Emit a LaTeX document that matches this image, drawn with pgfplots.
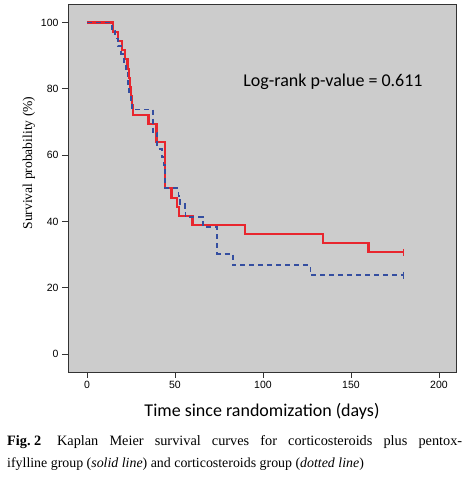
\documentclass[border=0pt]{standalone}
\usepackage{pgfplots}
\pgfplotsset{compat=1.18}
\usepackage{fontspec}
\setmainfont{Liberation Serif}
\newfontfamily\arialf{Liberation Sans}
\newfontfamily\calibrif{Carlito}
\definecolor{kmred}{RGB}{232,38,46}
\definecolor{kmblue}{RGB}{52,78,160}
\definecolor{kmbg}{RGB}{204,204,204}
\begin{document}
\begin{tikzpicture}
\begin{axis}[
  at={(0pt,0pt)}, anchor=south west,
  width=388pt, height=368pt, scale only axis,
  xmin=-10.8, xmax=209.7, ymin=-5.4, ymax=105.6,
  axis background/.style={fill=kmbg},
  axis line style={draw=black!80, line width=0.8pt},
  xtick={0,50,100,150,200}, ytick={0,20,40,60,80,100},
  tick align=outside, tick pos=left,
  major tick length=6pt,
  tick style={black!80, line width=0.8pt},
  ticklabel style={font=\arialf\fontsize{10.5}{12}\selectfont},
  /pgf/number format/assume math mode=true,
  clip=true,
]
\addplot[const plot, kmred, line width=2.2pt] coordinates {
(0,100) (15,97.2) (17.6,94.4) (20,91.7) (21.6,88.9) (23,86.1) (24,83.3)
(24.5,80.6) (25,77.8) (25.5,75) (26,72.2) (35,69.4) (39.5,63.9) (44.5,50)
(48,47.2) (51,44.4) (52.5,41.7) (60,38.9) (90,36.3) (134,33.5) (160,30.7) (180,30.7)
};
\addplot[const plot, kmblue, line width=1.8pt, dash pattern=on 5pt off 4pt] coordinates {
(0,100) (14,97.6) (16,95.2) (17.5,92.9) (19.5,90.5) (21,88.1) (22,85.7)
(23,83.3) (23.5,80.9) (24,78.6) (25,76.2) (25.5,73.8) (37.5,66.7) (40,61.9)
(42.5,59.5) (43.5,57.1) (44.5,50) (52,47.6) (53,45.2) (55.5,43.3) (56,41.3)
(66,38.3) (74,30.2) (83,26.8) (127,23.8) (180,23.8)
};
\addplot[only marks, mark=|, mark size=3.5pt, kmred, mark options={line width=1pt}] coordinates {(180,30.7)};
\addplot[only marks, mark=|, mark size=3.5pt, kmblue, mark options={line width=1pt}] coordinates {(180,23.8)};
\end{axis}
\node[anchor=base, font=\calibrif\fontsize{18}{21}\selectfont] at (194pt,-45pt) {Time since randomization (days)};
\node[rotate=90, anchor=center, font=\fontsize{13.6}{16}\selectfont] at (-39pt,209pt) {Survival probability (\%)};
\node[anchor=base, font=\calibrif\fontsize{18}{21}\selectfont] at (265pt,285pt) {Log-rank p-value = 0.611};
\node[anchor=base west, inner sep=0pt, font=\fontsize{14.3}{16}\selectfont] at (-61pt,-73pt) {\makebox[455pt][s]{\mbox{\textbf{Fig.\ 2}}\hspace{1.1em}Kaplan Meier survival curves for corticosteroids plus pentox-}};
\node[anchor=base west, inner sep=0pt, font=\fontsize{13.9}{16}\selectfont] at (-61pt,-95pt) {ifylline group (\textit{solid line}) and corticosteroids group (\textit{dotted line})};
\pgfresetboundingbox
\path[use as bounding box] (-68pt,-109pt) rectangle (398pt,372pt);
\end{tikzpicture}
\end{document}
